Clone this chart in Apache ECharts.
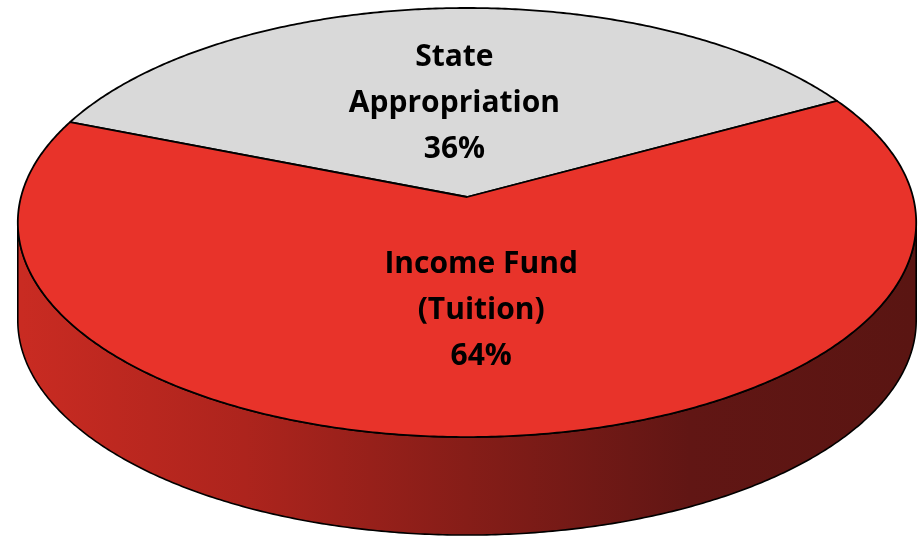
<!DOCTYPE html>
<html><head><meta charset="utf-8">
<script src="https://cdn.jsdelivr.net/npm/echarts@6/dist/echarts.min.js"></script>
<style>html,body{margin:0;background:#fff}#c{width:920px;height:537px}</style>
</head><body><div id="c"></div>
<script>
// === 資料 ===
const cats=['State\nAppropriation','Income Fund\n(Tuition)'];
const vals=[36,64];
const topColors=['#d9d9d9','#e8332a'];
const wallColors=[['#b0b0b0','#6a6a6a'],['#c92b22','#ad241d','#861d18','#611614','#5a1512']];

// === 版面：簡單透視投影 ===
const P={cx:467,cy:197,rx:446,ry:211.5,k:0.119,depth:98,start:158.3,labelR:0.49,labelDy:4};
const total=vals.reduce((a,b)=>a+b,0);
const starts=[];{let s=0;for(const v of vals){starts.push(s);s+=v;}}

function proj(deg,r,dy){
  const t=deg*Math.PI/180,c=Math.cos(t),s=Math.sin(t),f=1+P.k*r*s;
  return [P.cx+P.rx*r*c/f,P.cy-P.ry*r*s/f+(dy||0)];
}
function arc(a0,a1,r,dy){
  const pts=[],n=Math.max(2,Math.ceil(Math.abs(a1-a0)/0.5));
  for(let i=0;i<=n;i++)pts.push(proj(a0+(a1-a0)*i/n,r,dy));
  return pts;
}
function sliceAngles(i){
  const a0=P.start-starts[i]/total*360;
  return [a0,a0-vals[i]/total*360];
}
// 前方可見側壁角度範圍 (sinθ = -k 為輪廓切點)
const wEdge=Math.asin(P.k)*180/Math.PI;
function wallRange(a0,a1){
  for(const m of [-360,0,360]){
    const hi=Math.min(a0,-wEdge+m),lo=Math.max(a1,-180+wEdge+m);
    if(hi>lo)return [hi,lo];
  }
  return null;
}
function gradStops(cols){
  return cols.map((c,j)=>({offset:j/(cols.length-1),color:c}));
}

const chart=echarts.init(document.getElementById('c'),null,{renderer:'canvas'});
chart.setOption({
  animation:false,
  series:[
    {
      type:'custom',coordinateSystem:'none',z:1,silent:true,
      data:vals,
      renderItem:function(params,api){
        const i=params.dataIndex,[a0,a1]=sliceAngles(i),w=wallRange(a0,a1);
        if(!w)return null;
        const pts=arc(w[0],w[1],1,0).concat(arc(w[1],w[0],1,P.depth));
        return {type:'polygon',shape:{points:pts},style:{
          fill:{type:'linear',x:P.cx-P.rx,y:0,x2:P.cx+P.rx,y2:0,global:true,colorStops:gradStops(wallColors[i])},
          stroke:'#000',lineWidth:1.6,lineJoin:'round'}};
      }
    },
    {
      type:'custom',coordinateSystem:'none',z:2,silent:true,
      data:vals,
      renderItem:function(params,api){
        const i=params.dataIndex,[a0,a1]=sliceAngles(i);
        const pts=[proj(0,0,0)].concat(arc(a0,a1,1,0));
        const mid=(a0+a1)/2,lp=proj(mid,P.labelR,P.labelDy);
        const pct=Math.round(api.value(0)/total*100)+'%';
        return {type:'group',children:[
          {type:'polygon',shape:{points:pts},style:{fill:topColors[i],stroke:'#000',lineWidth:1.8,lineJoin:'round'}},
          {type:'text',z2:10,x:lp[0],y:lp[1],style:{
            text:cats[i]+'\n'+pct,align:'center',verticalAlign:'middle',
            fontFamily:'Open Sans',fontWeight:'bold',fontSize:30,lineHeight:46,fill:'#000'}}
        ]};
      }
    }
  ]
});
</script></body></html>
